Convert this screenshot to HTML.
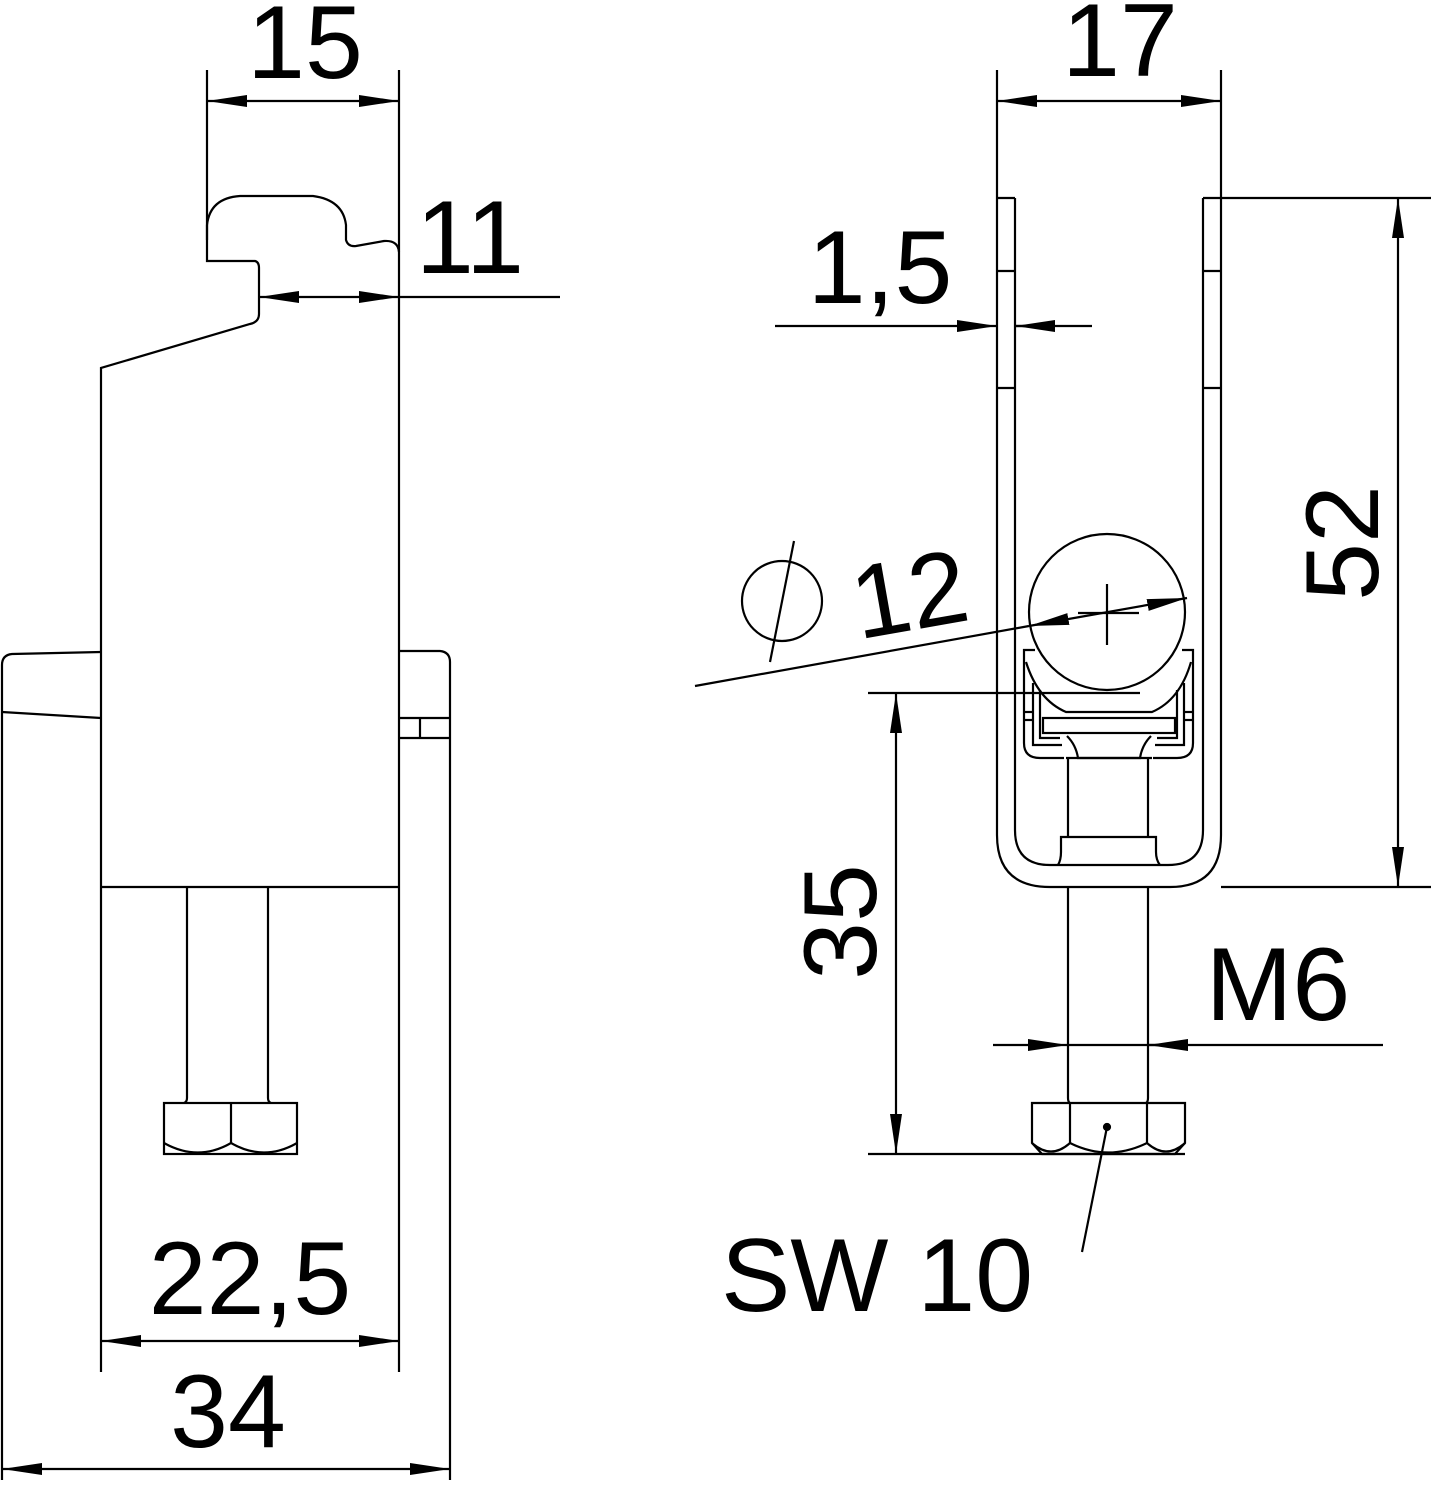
<!DOCTYPE html>
<html><head><meta charset="utf-8"><style>html,body{margin:0;padding:0;background:#fff}svg{display:block}</style></head>
<body>
<svg width="1431" height="1500" viewBox="0 0 1431 1500" xmlns="http://www.w3.org/2000/svg">
<defs>
<marker id="a" viewBox="0 0 40 12" refX="40" refY="6" markerWidth="40" markerHeight="12" markerUnits="userSpaceOnUse" orient="auto"><path d="M0,0 L40,6 L0,12 Z" fill="#000"/></marker>
<marker id="s" viewBox="0 0 40 12" refX="0" refY="6" markerWidth="40" markerHeight="12" markerUnits="userSpaceOnUse" orient="auto"><path d="M40,0 L0,6 L40,12 Z" fill="#000"/></marker>
</defs>
<g fill="none" stroke="#000" stroke-width="2.2">
<!-- LEFT VIEW -->
<line x1="207" y1="70" x2="207" y2="240"/>
<line x1="399" y1="70" x2="399" y2="1372"/>
<line x1="207" y1="101" x2="399" y2="101" marker-start="url(#s)" marker-end="url(#a)"/>
<path d="M207,240 L207,225 Q210,198 240,196 L313,196 Q343,200 346,225 L346,240 Q348,247 356,246 L384,241 Q398,240 399,252"/>
<path d="M207,240 L207,261 L255,261 Q259,262 259,268 L259,314 Q259,322 250,324 L101,368 L101,1372"/>
<line x1="259" y1="297" x2="399" y2="297" marker-start="url(#s)" marker-end="url(#a)"/>
<line x1="399" y1="297" x2="560" y2="297"/>
<path d="M101,652 L12,654 Q2,655 2,665 L2,1480"/>
<line x1="2" y1="712" x2="101" y2="718"/>
<path d="M399,651 L440,651 Q450,652 450,662 L450,1480"/>
<line x1="399" y1="718" x2="450" y2="718"/>
<line x1="399" y1="738" x2="450" y2="738"/>
<line x1="420" y1="718" x2="420" y2="738"/>
<line x1="101" y1="887" x2="399" y2="887"/>
<path d="M187,887 L187,1098 Q187,1102 184,1103"/>
<path d="M268,887 L268,1098 Q268,1102 271,1103"/>
<rect x="164" y="1103" width="133" height="51"/>
<line x1="231" y1="1103" x2="231" y2="1143"/>
<path d="M164,1143 Q198,1162 231,1143 Q264,1162 297,1143"/>
<line x1="101" y1="1341" x2="399" y2="1341" marker-start="url(#s)" marker-end="url(#a)"/>
<line x1="2" y1="1469" x2="450" y2="1469" marker-start="url(#s)" marker-end="url(#a)"/>

<!-- RIGHT VIEW -->
<line x1="997" y1="70" x2="997" y2="198"/>
<line x1="1221" y1="70" x2="1221" y2="198"/>
<line x1="997" y1="101" x2="1221" y2="101" marker-start="url(#s)" marker-end="url(#a)"/>
<path d="M997,198 L997,835 Q997,887 1050,887 L1170,887 Q1221,887 1221,835 L1221,198"/>
<path d="M1015,198 L1015,830 Q1015,865 1050,865 L1168,865 Q1203,865 1203,830 L1203,198"/>
<line x1="997" y1="198" x2="1015" y2="198"/>
<line x1="1203" y1="198" x2="1431" y2="198"/>
<line x1="997" y1="271" x2="1015" y2="271"/><line x1="1203" y1="271" x2="1221" y2="271"/>
<line x1="997" y1="388" x2="1015" y2="388"/><line x1="1203" y1="388" x2="1221" y2="388"/>
<line x1="1221" y1="887" x2="1431" y2="887"/>
<line x1="1398" y1="198" x2="1398" y2="887" marker-start="url(#s)" marker-end="url(#a)"/>
<line x1="775" y1="326" x2="997" y2="326" marker-end="url(#a)"/>
<line x1="1055" y1="326" x2="1015" y2="326" marker-end="url(#a)"/>
<line x1="1015" y1="326" x2="1092" y2="326"/>
<circle cx="1107" cy="612" r="78"/>
<line x1="1107" y1="584" x2="1107" y2="645"/>
<line x1="1078" y1="613" x2="1139" y2="613"/>
<line x1="695" y1="686" x2="1029" y2="626"/>
<line x1="1029" y1="626" x2="1187" y2="598" marker-start="url(#s)" marker-end="url(#a)"/>
<circle cx="782" cy="601" r="40"/>
<line x1="794" y1="541" x2="770" y2="662"/>
<path d="M1035,650 L1024,650 L1024,743 Q1024,758 1040,758 L1064,758"/>
<path d="M1182,650 L1193,650 L1193,743 Q1193,758 1177,758 L1153,758"/>
<path d="M1026,662 Q1038,700 1066,712 L1152,712 Q1180,700 1191,662"/>
<path d="M1033,683 L1033,745 L1062,745"/><path d="M1184,683 L1184,745 L1155,745"/>
<path d="M1040,690 L1040,738 L1060,738"/><path d="M1177,690 L1177,738 L1157,738"/>
<rect x="1043" y="718" width="132" height="15"/>
<line x1="1024" y1="712" x2="1033" y2="712"/><line x1="1024" y1="720" x2="1033" y2="720"/>
<line x1="1184" y1="712" x2="1193" y2="712"/><line x1="1184" y1="720" x2="1193" y2="720"/>
<path d="M1067,736 Q1076,745 1078,758 L1140,758 Q1142,745 1151,736"/>
<line x1="1066" y1="758" x2="1152" y2="758"/>
<line x1="1068" y1="758" x2="1068" y2="837"/><line x1="1148" y1="758" x2="1148" y2="837"/>
<path d="M1058,865 Q1061,860 1061,852 L1061,837 L1156,837 L1156,852 Q1156,860 1160,865"/>
<path d="M1068,887 L1068,1098 Q1068,1102 1070,1103"/>
<path d="M1148,887 L1148,1098 Q1148,1102 1146,1103"/>
<path d="M1032,1103 L1185,1103 L1185,1143 L1175,1154 L1042,1154 L1032,1143 Z"/>
<line x1="1070" y1="1103" x2="1070" y2="1143"/><line x1="1147" y1="1103" x2="1147" y2="1143"/>
<path d="M1032,1143 Q1051,1160 1070,1143 Q1108,1162 1147,1143 Q1166,1160 1185,1143"/>
<circle cx="1107" cy="1127" r="3" fill="#000"/>
<line x1="1107" y1="1127" x2="1082" y2="1252"/>
<line x1="868" y1="693" x2="1140" y2="693"/>
<line x1="868" y1="1154" x2="1185" y2="1154"/>
<line x1="896" y1="693" x2="896" y2="1154" marker-start="url(#s)" marker-end="url(#a)"/>
<line x1="993" y1="1045" x2="1068" y2="1045" marker-end="url(#a)"/>
<line x1="1188" y1="1045" x2="1148" y2="1045" marker-end="url(#a)"/>
<line x1="1068" y1="1045" x2="1383" y2="1045"/>
</g>
<g font-family="Liberation Sans, sans-serif" font-size="104" fill="#000" text-anchor="middle">
<text x="305" y="78">15</text>
<text x="470" y="273">11</text>
<text x="250" y="1314">22,5</text>
<text x="228" y="1447">34</text>
<text x="1120" y="76">17</text>
<text x="880" y="303">1,5</text>
<text x="910" y="630" transform="rotate(-10 910 598)">12</text>
<text x="1278" y="1020">M6</text>
<text x="877" y="1311">SW 10</text>
<text transform="translate(1378,543) rotate(-90)">52</text>
<text transform="translate(876,922) rotate(-90)">35</text>
</g>
</svg>
</body></html>
